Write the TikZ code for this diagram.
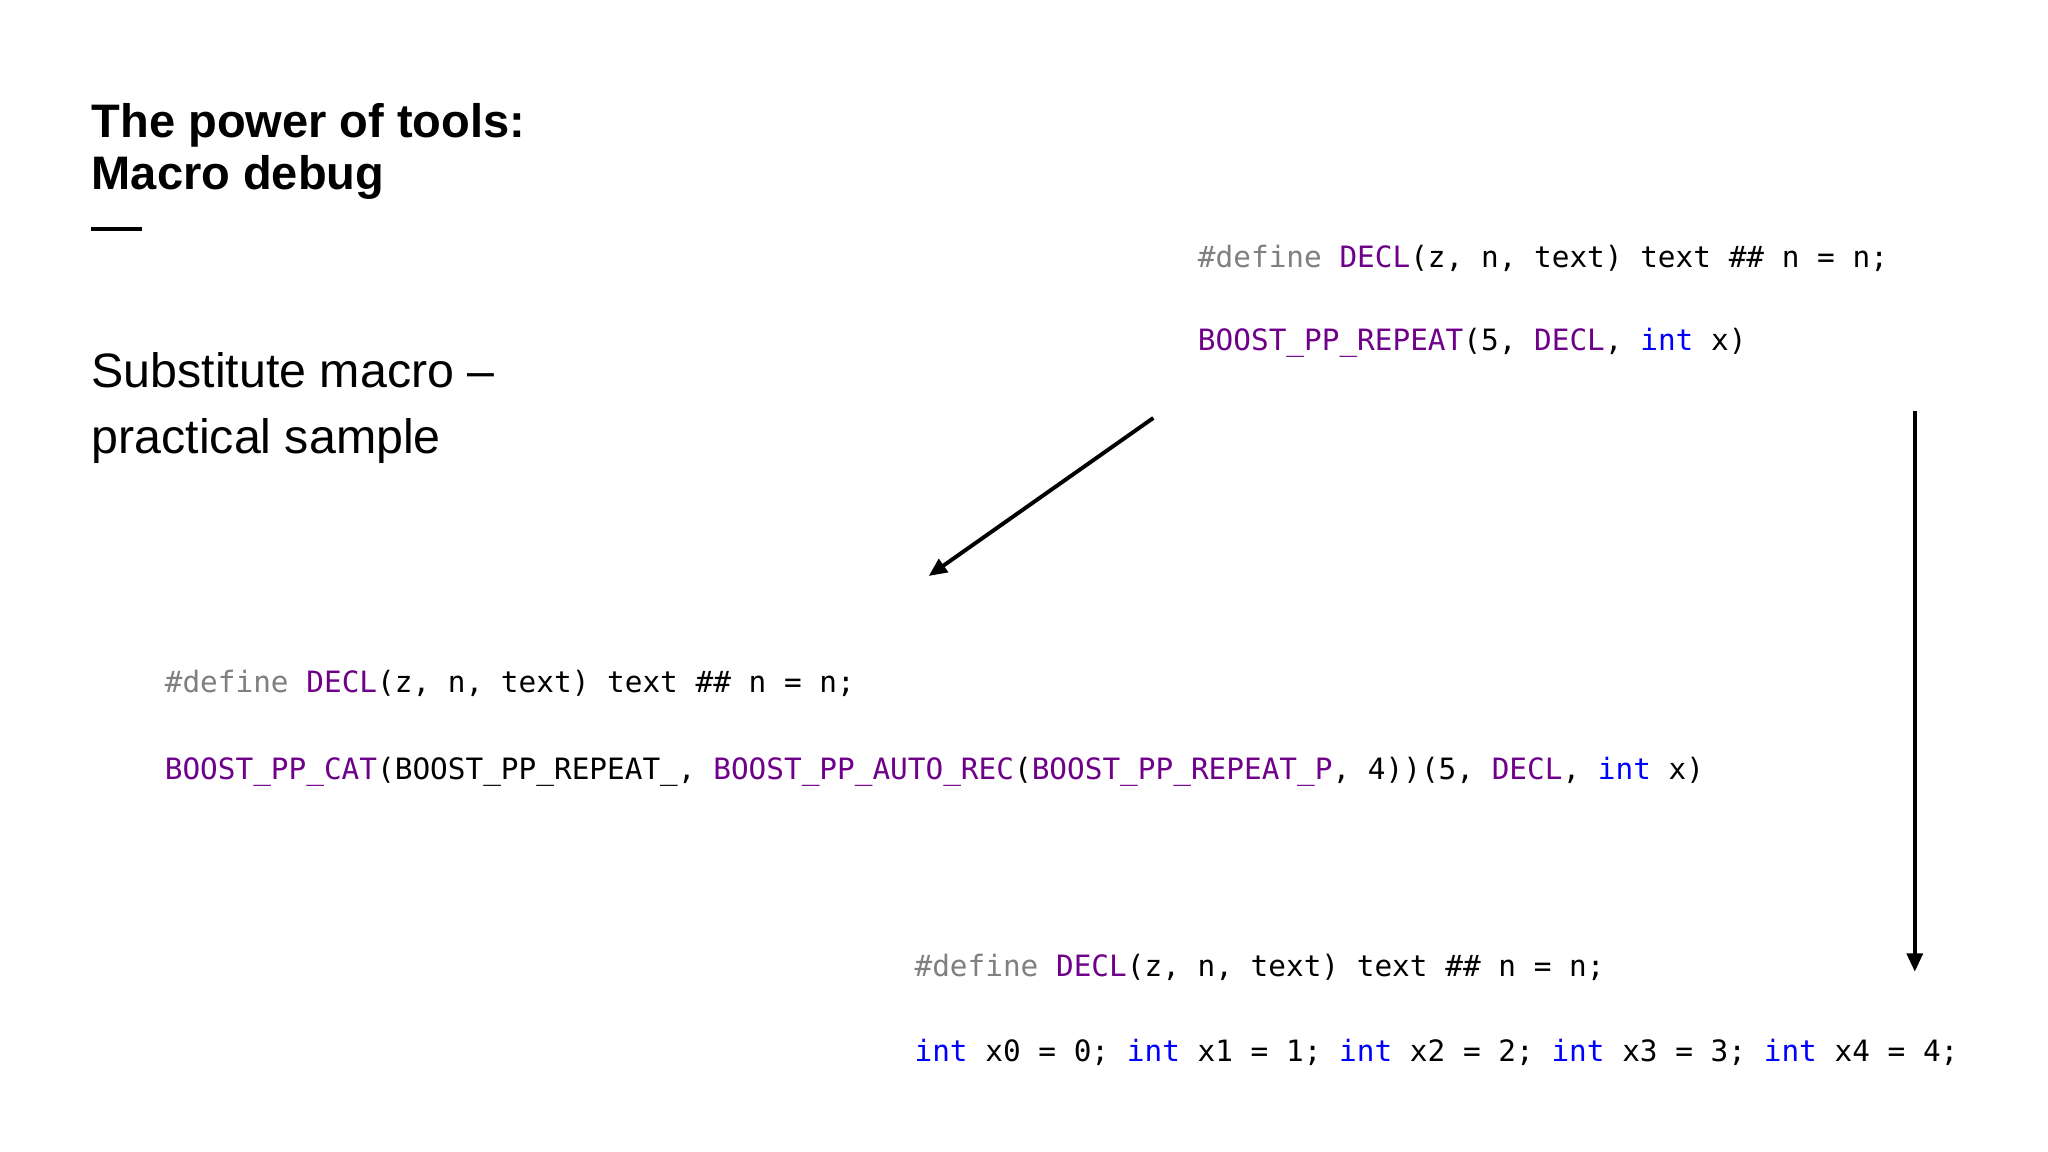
\documentclass[tikz,border=0pt]{standalone}
\usepackage{fontspec}
\setmainfont{Liberation Sans}
\setmonofont{DejaVu Sans Mono}
\usetikzlibrary{arrows.meta}
\definecolor{kgray}{HTML}{808080}
\definecolor{kpurp}{HTML}{6F008A}
\definecolor{kblue}{HTML}{0000FF}
\newcommand{\kG}[1]{\textcolor{kgray}{#1}}
\newcommand{\kP}[1]{\textcolor{kpurp}{#1}}
\newcommand{\kB}[1]{\textcolor{kblue}{#1}}
\tikzset{
 code/.style={anchor=base west,inner sep=0,font=\ttfamily\fontsize{22.5}{27}\selectfont},
 ttl/.style={anchor=base west,inner sep=0,font=\bfseries\fontsize{36}{40}\selectfont},
 sub/.style={anchor=base west,inner sep=0,font=\fontsize{37}{50}\selectfont,align=left},
 arr/.style={line width=3pt,-{Triangle[length=14pt,width=12pt]}}
}
\begin{document}
\begin{tikzpicture}[x=1pt,y=-1pt]
\useasboundingbox[fill=white] (0,0) rectangle (1568,882);
\node[ttl] (t1) at (70,105) {The power of tools:};
\node[ttl] (t2) at (70,145) {Macro debug};
\draw[line width=3pt] (70,175) -- (109,175);
\node[sub] (s1) at (70,297) {Substitute macro –};
\node[sub] (s2) at (70,347) {practical sample};
\node[code] (a1) at (917,205) {\kG{\#define} \kP{DECL}(z, n, text) text \#\# n = n;};
\node[code] (a2) at (917,268) {\kP{BOOST\_PP\_REPEAT}(5, \kP{DECL}, \kB{int} x)};
\node[code] (b1) at (126,530) {\kG{\#define} \kP{DECL}(z, n, text) text \#\# n = n;};
\node[code] (b2) at (126,597) {\kP{BOOST\_PP\_CAT}(BOOST\_PP\_REPEAT\_, \kP{BOOST\_PP\_AUTO\_REC}(\kP{BOOST\_PP\_REPEAT\_P}, 4))(5, \kP{DECL}, \kB{int} x)};
\node[code] (c1) at (700,748) {\kG{\#define} \kP{DECL}(z, n, text) text \#\# n = n;};
\node[code] (c2) at (700,813) {\kB{int} x0 = 0; \kB{int} x1 = 1; \kB{int} x2 = 2; \kB{int} x3 = 3; \kB{int} x4 = 4;};
\coordinate (p1) at (883,320); \coordinate (p2) at (711,441);
\coordinate (q1) at (1466,315); \coordinate (q2) at (1466,744);
\draw[arr] (p1) -- (p2);
\draw[arr] (q1) -- (q2);
\end{tikzpicture}
\end{document}
